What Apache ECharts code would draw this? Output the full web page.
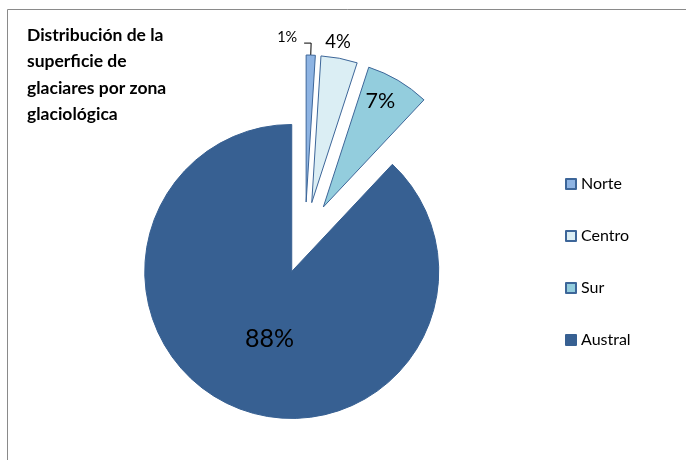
<!DOCTYPE html>
<html>
<head>
<meta charset="utf-8">
<script src="https://cdn.jsdelivr.net/npm/echarts@6/dist/echarts.min.js"></script>
<style>
  html, body { margin: 0; padding: 0; background: #fff; }
  #chart { width: 686px; height: 460px; }
</style>
</head>
<body>
<div id="chart"></div>
<script>
  var zonas = ['Norte', 'Centro', 'Sur', 'Austral'];
  var porcentajes = [1, 4, 7, 88];
  var titulo = ['Distribución de la', 'superficie de', 'glaciares por zona', 'glaciológica'];

  var colores = ['#8eb4e3', '#dbeef4', '#93cddd', '#376092'];
  var bordes = ['#3d6699', '#3d6699', '#3d6699', '#376092'];
  var font = 'Lato, "Open Sans", sans-serif';

  // an empty rich line under the value lifts it up by half its height
  function subir(px) {
    return px ? '{d}%\n{s|}' : '{d}%';
  }

  // label settings per slice (Excel put each one in a slightly different spot)
  var etiquetas = [
    {
      label: { position: 'outside', fontSize: 14.5, distanceToLabelLine: -27, formatter: subir(12), rich: { s: { height: 12 } } },
      labelLine: { show: true, length: 12, length2: -7, minTurnAngle: 30, lineStyle: { color: '#000', width: 1 } }
    },
    {
      label: { position: 'outside', fontSize: 18.5, distanceToLabelLine: -17 },
      labelLine: { show: false, length: 16, length2: 0 }
    },
    {
      label: { position: 'inside', fontSize: 21.5, padding: [0, 0, 0, 36], formatter: subir(80), rich: { s: { height: 80 } } },
      labelLine: { show: false }
    },
    {
      label: { position: 'inside', fontSize: 25, padding: [0, 0, 0, 12], formatter: subir(8), rich: { s: { height: 8 } } },
      labelLine: { show: false }
    }
  ];

  var datos = zonas.map(function (z, i) {
    return {
      name: z,
      value: porcentajes[i],
      selected: true,
      itemStyle: { color: colores[i], borderColor: bordes[i], borderWidth: 1 },
      label: etiquetas[i].label,
      labelLine: etiquetas[i].labelLine
    };
  });

  var chart = echarts.init(document.getElementById('chart'), null, { renderer: 'canvas' });
  chart.setOption({
    animation: false,
    backgroundColor: '#fff',
    graphic: [{
      type: 'rect',
      shape: { x: 7.5, y: 9.5, width: 700, height: 480 },
      style: { fill: 'none', stroke: '#8a8a8a', lineWidth: 1 },
      silent: true
    }],
    title: {
      text: titulo.join('\n'),
      left: 27,
      top: 22,
      padding: 0,
      textStyle: { fontFamily: font, fontWeight: 'bold', fontSize: 17.5, lineHeight: 26.5, color: '#000' }
    },
    legend: {
      orient: 'vertical',
      left: 565,
      top: 176,
      padding: 0,
      itemWidth: 10,
      itemHeight: 10,
      itemGap: 36,
      icon: 'rect',
      data: zonas,
      selectedMode: false,
      textStyle: { fontFamily: font, fontSize: 16, lineHeight: 15, color: '#000' }
    },
    series: [{
      type: 'pie',
      center: [305, 238],
      radius: 147,
      startAngle: 90,
      clockwise: true,
      selectedMode: 'multiple',
      selectedOffset: 36,
      avoidLabelOverlap: false,
      percentPrecision: 0,
      emphasis: { disabled: true },
      label: {
        formatter: '{d}%',
        fontFamily: font,
        color: '#000'
      },
      data: datos
    }]
  });
</script>
</body>
</html>
